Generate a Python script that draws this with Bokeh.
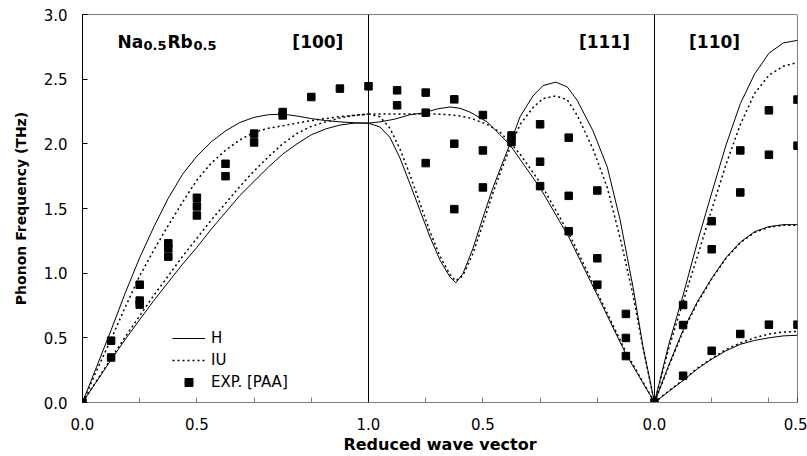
from bokeh.plotting import figure
from bokeh.models import Range1d, FixedTicker, Span, Label, Legend, LegendItem
from bokeh.embed import file_html
from bokeh.resources import INLINE

# ---------------- data ----------------
# [100] direction, reduced wave vector xi from 0 (Gamma) to 1 (H)
xi_100 = [0.0, 0.05, 0.1, 0.15, 0.2, 0.25, 0.3, 0.35, 0.4, 0.45, 0.5,
          0.55, 0.6, 0.65, 0.7, 0.75, 0.8, 0.85, 0.9, 0.95, 1.0]
H_L100 = [0, 0.28, 0.56, 0.85, 1.12, 1.36, 1.58, 1.765, 1.905, 2.015, 2.10,
          2.165, 2.205, 2.225, 2.23, 2.215, 2.195, 2.18, 2.17, 2.163, 2.16]
IU_L100 = [0, 0.25, 0.49, 0.74, 0.98, 1.18, 1.37, 1.55, 1.72, 1.85, 1.95,
           2.03, 2.09, 2.12, 2.14, 2.16, 2.18, 2.195, 2.21, 2.22, 2.23]
H_T100 = [0, 0.165, 0.33, 0.49, 0.64, 0.79, 0.93, 1.07, 1.20, 1.34, 1.47,
          1.60, 1.71, 1.82, 1.92, 2.00, 2.07, 2.115, 2.145, 2.16, 2.16]
IU_T100 = [0, 0.17, 0.34, 0.51, 0.67, 0.83, 0.98, 1.13, 1.27, 1.41, 1.54,
           1.67, 1.79, 1.90, 2.00, 2.08, 2.135, 2.17, 2.20, 2.22, 2.23]

# [111] direction, xi from 1 (H) back to 0 (Gamma)
xi_111_L = [1.0, 0.96, 0.925, 0.89, 0.855, 0.82, 0.785, 0.75, 0.715, 0.695,
            0.67, 0.635, 0.60, 0.565, 0.53, 0.505, 0.47, 0.425, 0.39, 0.345,
            0.305, 0.27, 0.215, 0.165, 0.12, 0.075, 0.04, 0.0]
H_L111 = [2.16, 2.13, 2.05, 1.89, 1.69, 1.485, 1.28, 1.10, 0.97, 0.925,
          0.995, 1.19, 1.43, 1.66, 1.86, 2.00, 2.21, 2.37, 2.45, 2.477,
          2.44, 2.335, 2.10, 1.82, 1.41, 0.89, 0.43, 0.0]
IU_L111 = [2.23, 2.21, 2.12, 1.96, 1.76, 1.54, 1.32, 1.13, 0.99, 0.94,
           0.98, 1.15, 1.38, 1.62, 1.83, 1.97, 2.15, 2.28, 2.35, 2.37,
           2.34, 2.22, 1.96, 1.66, 1.27, 0.83, 0.42, 0.0]
xi_111_T = [1.0, 0.96, 0.91, 0.855, 0.805, 0.76, 0.715, 0.68, 0.645, 0.585,
            0.54, 0.505, 0.47, 0.435, 0.40, 0.30, 0.20, 0.10, 0.0]
H_T111 = [2.16, 2.17, 2.19, 2.225, 2.24, 2.27, 2.285, 2.275, 2.245, 2.17,
          2.07, 1.99, 1.88, 1.77, 1.66, 1.28, 0.83, 0.375, 0.0]
IU_T111 = [2.23, 2.23, 2.23, 2.23, 2.23, 2.23, 2.225, 2.215, 2.20, 2.15,
           2.09, 2.01, 1.92, 1.81, 1.70, 1.31, 0.85, 0.39, 0.0]

# [110] direction, xi from 0 (Gamma) to 0.5
xi_110 = [0.0, 0.05, 0.1, 0.15, 0.2, 0.25, 0.3, 0.35, 0.4, 0.45, 0.5]
H_L110 = [0, 0.45, 0.83, 1.24, 1.62, 1.99, 2.31, 2.54, 2.70, 2.78, 2.80]
IU_L110 = [0, 0.42, 0.78, 1.13, 1.49, 1.84, 2.15, 2.39, 2.53, 2.60, 2.63]
H_T1_110 = [0, 0.29, 0.56, 0.78, 0.96, 1.12, 1.24, 1.32, 1.36, 1.375, 1.375]
IU_T1_110 = [0, 0.28, 0.55, 0.77, 0.955, 1.115, 1.235, 1.315, 1.355, 1.37, 1.37]
H_T2_110 = [0, 0.085, 0.17, 0.26, 0.335, 0.40, 0.45, 0.48, 0.50, 0.515, 0.52]
IU_T2_110 = [0, 0.09, 0.175, 0.265, 0.34, 0.41, 0.46, 0.50, 0.53, 0.545, 0.55]

# Experimental points [PAA]
xi_exp100 = [0.0, 0.1, 0.1, 0.2, 0.2, 0.2, 0.3, 0.3, 0.3, 0.4, 0.4, 0.4,
             0.5, 0.5, 0.6, 0.6, 0.7, 0.7, 0.8, 0.9, 1.0]
f_exp100 = [0.0, 0.478, 0.348, 0.911, 0.788, 0.757, 1.231, 1.193, 1.128,
            1.583, 1.516, 1.446, 1.846, 1.750, 2.079, 2.011, 2.246, 2.220,
            2.362, 2.427, 2.445]
xi_exp111 = [0.9, 0.9, 0.8, 0.8, 0.8, 0.7, 0.7, 0.7, 0.6, 0.6, 0.6, 0.5, 0.5,
             0.4, 0.4, 0.4, 0.3, 0.3, 0.3, 0.2, 0.2, 0.2, 0.1, 0.1, 0.1]
f_exp111 = [2.414, 2.298, 2.396, 2.241, 1.851, 2.344, 2.001, 1.495, 2.223,
            1.949, 1.663, 2.065, 2.013, 2.151, 1.862, 1.673, 2.048, 1.598,
            1.324, 1.639, 1.115, 0.911, 0.685, 0.499, 0.359]
xi_exp110 = [0.0, 0.1, 0.1, 0.1, 0.2, 0.2, 0.2, 0.3, 0.3, 0.3, 0.4, 0.4, 0.4,
             0.5, 0.5, 0.5]
f_exp110 = [0.0, 0.754, 0.599, 0.207, 1.402, 1.185, 0.400, 1.949, 1.624,
            0.530, 2.259, 1.916, 0.602, 2.342, 1.986, 0.602]

# Axis tick labels
x_tick_pos = [0.0, 0.4, 1.0, 1.4, 2.0, 2.5]
x_tick_labels = ["0.0", "0.5", "1.0", "0.5", "0.0", "0.5"]
x_minor_pos = [0.2, 0.6, 0.8, 1.2, 1.6, 1.8, 2.2, 2.4]
y_tick_pos = [0.0, 0.5, 1.0, 1.5, 2.0, 2.5, 3.0]
y_tick_labels = ["0.0", "0.5", "1.0", "1.5", "2.0", "2.5", "3.0"]


# ---------------- path coordinate along the dispersion plot ----------------
def path_100(xi):
    return [v for v in xi]


def path_111(xi):
    return [2.0 - v for v in xi]


def path_110(xi):
    return [2.0 + v for v in xi]


FONT = "DejaVu Sans"

p = figure(width=807, height=456, output_backend="svg", toolbar_location=None,
           x_range=Range1d(0, 2.5), y_range=Range1d(0, 3.0),
           min_border_left=82, min_border_right=10, min_border_top=14,
           min_border_bottom=54)
p.background_fill_color = "white"
p.border_fill_color = "white"
p.outline_line_color = None
p.grid.visible = False

# frame borders (top, right) and direction separators
for loc, dim in [(3.0, "width"), (2.5, "height"), (1.0, "height"), (2.0, "height")]:
    p.add_layout(Span(location=loc, dimension=dim, line_color="black", line_width=1))

h_xs = [path_100(xi_100), path_100(xi_100), path_111(xi_111_L), path_111(xi_111_T),
        path_110(xi_110), path_110(xi_110), path_110(xi_110)]
h_ys = [H_L100, H_T100, H_L111, H_T111, H_L110, H_T1_110, H_T2_110]
iu_xs = [path_100(xi_100), path_100(xi_100), path_111(xi_111_L), path_111(xi_111_T),
         path_110(xi_110), path_110(xi_110), path_110(xi_110)]
iu_ys = [IU_L100, IU_T100, IU_L111, IU_T111, IU_L110, IU_T1_110, IU_T2_110]

r_h = p.multi_line(h_xs, h_ys, line_color="black", line_width=1)
r_iu = p.multi_line(iu_xs, iu_ys, line_color="black", line_width=1.5, line_dash="2 3")

x_exp = path_100(xi_exp100) + path_111(xi_exp111) + path_110(xi_exp110)
f_exp = f_exp100 + f_exp111 + f_exp110
r_exp = p.scatter(x_exp, f_exp, marker="square", size=7.5, color="black")

# axes
xa = p.xaxis[0]
xa.ticker = FixedTicker(ticks=x_tick_pos, minor_ticks=x_minor_pos)
xa.major_label_overrides = {pos: lab for pos, lab in zip(x_tick_pos, x_tick_labels)}
xa.axis_line_color = "#808080"
xa.major_tick_line_color = "#808080"
xa.minor_tick_line_color = "#808080"
xa.major_tick_in = 5
xa.major_tick_out = 0
xa.minor_tick_in = 5
xa.minor_tick_out = 0
xa.major_label_standoff = 15
xa.major_label_text_font = FONT
xa.major_label_text_font_size = "15px"
xa.major_label_text_color = "black"
xa.axis_label = "Reduced wave vector"
xa.axis_label_text_font = FONT
xa.axis_label_text_font_size = "16px"
xa.axis_label_text_font_style = "bold"
xa.axis_label_text_color = "black"
xa.axis_label_standoff = 2

ya = p.yaxis[0]
ya.ticker = FixedTicker(ticks=y_tick_pos)
ya.major_label_overrides = {pos: lab for pos, lab in zip(y_tick_pos, y_tick_labels)}
ya.axis_line_color = "black"
ya.major_tick_line_color = "black"
ya.major_tick_in = 5
ya.major_tick_out = 0
ya.minor_tick_line_color = None
ya.major_label_standoff = 15
ya.major_label_text_font = FONT
ya.major_label_text_font_size = "15px"
ya.major_label_text_color = "black"
ya.axis_label = "Phonon Frequency (THz)"
ya.axis_label_text_font = FONT
ya.axis_label_text_font_size = "14px"
ya.axis_label_text_font_style = "bold"
ya.axis_label_text_color = "black"
ya.axis_label_standoff = 12

# direction labels
for txt, xc in [("[100]", 0.823), ("[111]", 1.825), ("[110]", 2.21)]:
    p.add_layout(Label(x=xc, y=2.786, text=txt, text_align="center",
                       text_baseline="alphabetic", text_font=FONT,
                       text_font_size="17px", text_font_style="bold",
                       text_color="black"))

# compound label Na0.5Rb0.5 with subscripts
for txt, dx, dy, size in [("Na", 35, 0, "17px"), ("0.5", 61, -3, "13px"),
                          ("Rb", 85, 0, "17px"), ("0.5", 111, -3, "13px")]:
    p.add_layout(Label(x=0.0, y=2.786, x_offset=dx, y_offset=dy, text=txt,
                       text_align="left", text_baseline="alphabetic",
                       text_font=FONT, text_font_size=size,
                       text_font_style="bold", text_color="black"))

legend = Legend(items=[LegendItem(label="H", renderers=[r_h]),
                       LegendItem(label="IU", renderers=[r_iu]),
                       LegendItem(label="EXP. [PAA]", renderers=[r_exp])],
                location=(80, 0), glyph_width=33, glyph_height=20,
                label_standoff=6, spacing=2, padding=10, margin=0,
                border_line_alpha=0, background_fill_alpha=0,
                label_text_font=FONT, label_text_font_size="15px",
                label_text_color="black")
p.add_layout(legend)

open("out.html", "w").write(file_html(p, INLINE))
